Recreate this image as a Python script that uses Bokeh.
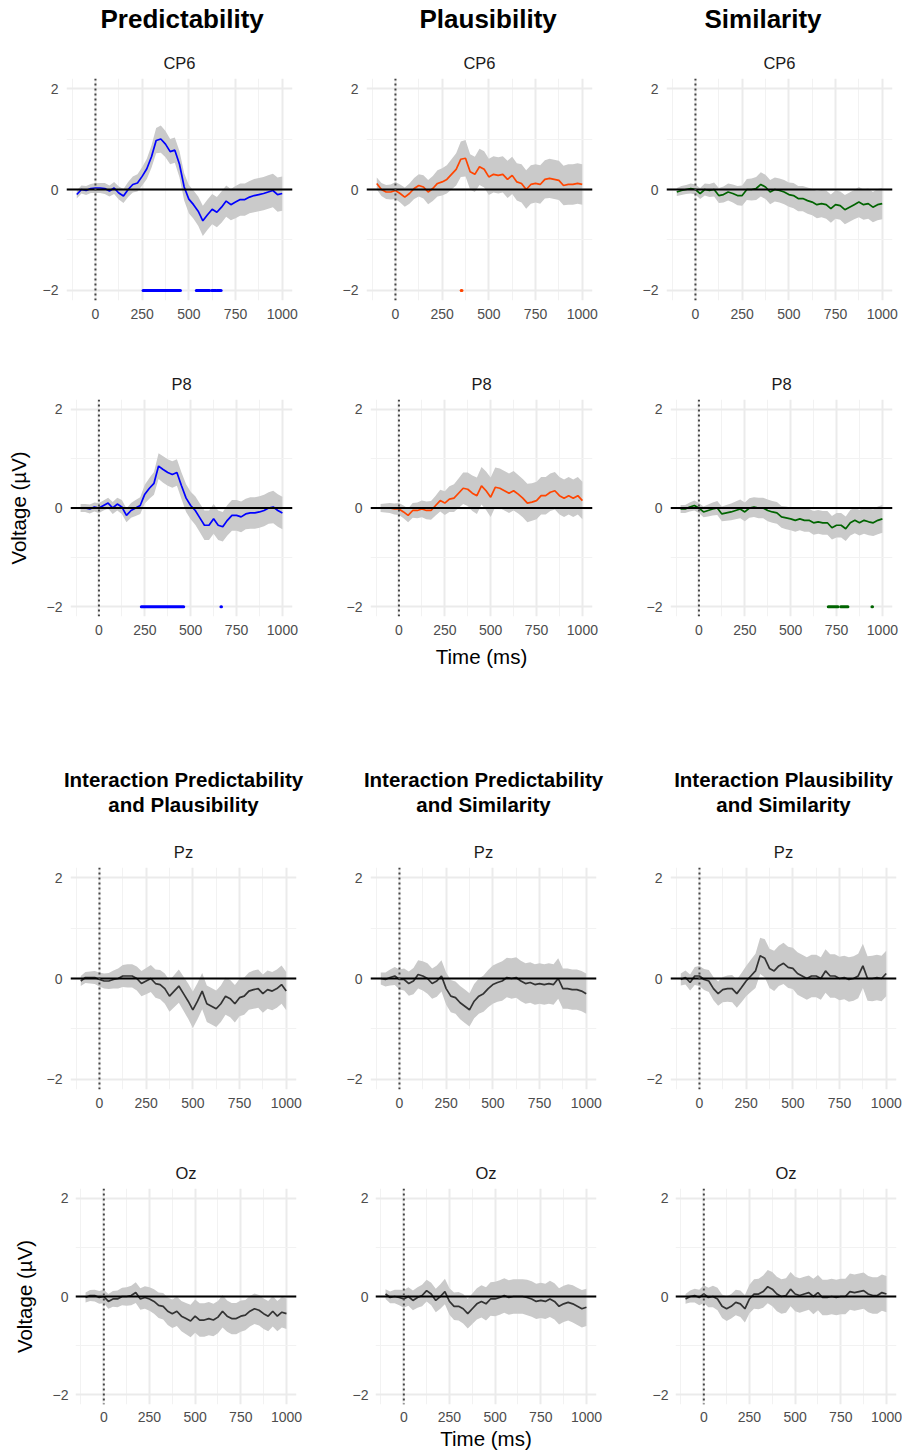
from bokeh.plotting import figure
from bokeh.models import Range1d, FixedTicker, Span, Title
from bokeh.layouts import column, row
from bokeh.embed import file_html
from bokeh.resources import INLINE

FONT = "Liberation Sans"

# ---------------- data ----------------
TIME = [-100, -75, -50, -25, 0, 25, 50, 75, 100, 125, 150, 175, 200, 225, 250, 275,
        300, 325, 350, 375, 400, 425, 450, 475, 500, 525, 550, 575, 600, 625, 650,
        675, 700, 725, 750, 775, 800, 825, 850, 875, 900, 925, 950, 975, 1000]

X_TICKS = [0, 250, 500, 750, 1000]
X_MINOR = [-125, 125, 375, 625, 875]
Y_TICKS = [-2, 0, 2]
Y_MINOR = [-1, 1]
Y_LABELS = {-2: "\u22122", 0: "0", 2: "2"}
SIG_LEVEL = -2

col_titles_top = ["Predictability", "Plausibility", "Similarity"]
col_titles_bottom = [["Interaction Predictability", "and Plausibility"],
                     ["Interaction Predictability", "and Similarity"],
                     ["Interaction Plausibility", "and Similarity"]]
electrodes = ["CP6", "P8", "Pz", "Oz"]

pred_cp6 = [-0.10, 0.00, -0.02, 0.02, 0.03, 0.03, 0.02, -0.03, 0.03, -0.07, -0.13, 0.00, 0.10, 0.13, 0.26, 0.41,
            0.65, 0.97, 1.00, 0.90, 0.75, 0.78, 0.50, 0.05, -0.19, -0.30, -0.43, -0.62, -0.50, -0.39, -0.45,
            -0.35, -0.23, -0.30, -0.25, -0.20, -0.20, -0.15, -0.12, -0.10, -0.08, -0.05, -0.02, -0.10, -0.08]
ci_pred_cp6 = [0.08, 0.08, 0.09, 0.09, 0.10, 0.10, 0.11, 0.11, 0.12, 0.13, 0.14, 0.15, 0.16, 0.17, 0.18, 0.20,
               0.22, 0.25, 0.27, 0.26, 0.25, 0.25, 0.26, 0.27, 0.28, 0.28, 0.29, 0.30, 0.30, 0.30, 0.30,
               0.31, 0.31, 0.31, 0.32, 0.32, 0.32, 0.32, 0.33, 0.33, 0.33, 0.33, 0.33, 0.34, 0.34]

plaus_cp6 = [0.12, 0.00, -0.05, -0.05, -0.02, -0.08, -0.15, -0.08, 0.02, 0.08, 0.05, -0.05, 0.02, 0.12, 0.15, 0.20,
             0.30, 0.40, 0.60, 0.62, 0.35, 0.30, 0.45, 0.40, 0.25, 0.30, 0.28, 0.30, 0.20, 0.28, 0.15,
             0.12, 0.00, 0.10, 0.12, 0.10, 0.20, 0.22, 0.20, 0.18, 0.08, 0.10, 0.10, 0.12, 0.10]
ci_plaus_cp6 = [0.12, 0.13, 0.14, 0.15, 0.17, 0.18, 0.19, 0.20, 0.21, 0.22, 0.23, 0.24, 0.25, 0.26, 0.27, 0.28,
                0.30, 0.32, 0.35, 0.36, 0.35, 0.35, 0.36, 0.36, 0.36, 0.36, 0.36, 0.36, 0.37, 0.37, 0.37,
                0.38, 0.38, 0.38, 0.38, 0.38, 0.38, 0.39, 0.39, 0.39, 0.39, 0.40, 0.40, 0.40, 0.40]

sim_cp6 = [-0.05, -0.02, 0.00, 0.02, 0.00, -0.08, 0.00, -0.02, 0.00, -0.12, -0.10, -0.05, -0.08, -0.12, -0.12, 0.00,
           0.00, 0.02, 0.10, 0.05, -0.05, 0.00, -0.02, -0.05, -0.10, -0.12, -0.18, -0.18, -0.22, -0.25, -0.30,
           -0.28, -0.30, -0.38, -0.30, -0.32, -0.40, -0.35, -0.30, -0.25, -0.30, -0.28, -0.35, -0.30, -0.28]
ci_sim_cp6 = [0.08, 0.09, 0.09, 0.10, 0.10, 0.11, 0.12, 0.13, 0.14, 0.15, 0.16, 0.17, 0.18, 0.19, 0.20, 0.21,
              0.22, 0.23, 0.24, 0.24, 0.24, 0.24, 0.24, 0.24, 0.24, 0.25, 0.25, 0.25, 0.26, 0.26, 0.27,
              0.27, 0.28, 0.28, 0.28, 0.28, 0.29, 0.29, 0.29, 0.30, 0.30, 0.30, 0.30, 0.31, 0.31]

pred_p8 = [0.00, 0.00, -0.02, 0.02, 0.00, 0.05, 0.10, 0.00, 0.08, 0.02, -0.15, -0.05, 0.00, 0.05, 0.28, 0.40,
           0.50, 0.85, 0.78, 0.72, 0.68, 0.72, 0.45, 0.20, 0.05, -0.05, -0.20, -0.35, -0.35, -0.22, -0.35,
           -0.38, -0.25, -0.15, -0.15, -0.18, -0.12, -0.10, -0.10, -0.08, -0.05, 0.00, 0.02, -0.05, -0.10]
ci_pred_p8 = [0.08, 0.08, 0.09, 0.09, 0.10, 0.10, 0.11, 0.12, 0.13, 0.14, 0.14, 0.15, 0.16, 0.17, 0.19, 0.21,
              0.23, 0.26, 0.27, 0.27, 0.27, 0.27, 0.27, 0.28, 0.28, 0.29, 0.29, 0.30, 0.30, 0.30, 0.30,
              0.30, 0.31, 0.31, 0.31, 0.31, 0.31, 0.32, 0.32, 0.32, 0.32, 0.32, 0.33, 0.33, 0.33]

plaus_p8 = [0.00, 0.00, 0.00, -0.02, -0.02, -0.08, -0.15, -0.05, -0.05, -0.02, -0.05, -0.05, 0.05, 0.15, 0.10, 0.18,
            0.20, 0.30, 0.40, 0.38, 0.30, 0.25, 0.45, 0.35, 0.22, 0.42, 0.40, 0.35, 0.30, 0.35, 0.28,
            0.20, 0.10, 0.12, 0.15, 0.25, 0.25, 0.32, 0.35, 0.25, 0.20, 0.25, 0.20, 0.25, 0.15]
ci_plaus_p8 = [0.08, 0.09, 0.10, 0.11, 0.12, 0.13, 0.14, 0.15, 0.16, 0.17, 0.18, 0.19, 0.20, 0.22, 0.24, 0.26,
               0.28, 0.30, 0.32, 0.34, 0.36, 0.37, 0.38, 0.39, 0.40, 0.40, 0.40, 0.40, 0.40, 0.40, 0.39,
               0.39, 0.39, 0.38, 0.38, 0.38, 0.38, 0.38, 0.38, 0.38, 0.38, 0.38, 0.38, 0.38, 0.38]

sim_p8 = [-0.02, -0.02, 0.02, 0.05, 0.00, -0.08, -0.05, -0.02, 0.00, -0.12, -0.10, -0.08, -0.05, -0.02, -0.08, 0.00,
          0.02, 0.00, 0.00, -0.05, -0.08, -0.10, -0.18, -0.20, -0.22, -0.25, -0.22, -0.25, -0.25, -0.30, -0.28,
          -0.30, -0.30, -0.40, -0.35, -0.35, -0.42, -0.30, -0.25, -0.30, -0.25, -0.28, -0.30, -0.25, -0.22]
ci_sim_p8 = [0.08, 0.08, 0.09, 0.10, 0.10, 0.11, 0.12, 0.13, 0.14, 0.15, 0.16, 0.17, 0.18, 0.19, 0.19, 0.20,
             0.20, 0.21, 0.21, 0.22, 0.22, 0.22, 0.22, 0.23, 0.23, 0.23, 0.23, 0.23, 0.23, 0.24, 0.24,
             0.24, 0.24, 0.24, 0.25, 0.25, 0.25, 0.26, 0.26, 0.26, 0.27, 0.27, 0.27, 0.28, 0.28]

pp_pz = [-0.05, 0.02, 0.02, 0.02, -0.02, -0.05, -0.05, -0.02, 0.00, 0.05, 0.05, 0.05, 0.00, -0.10, -0.05, 0.00,
         -0.10, -0.12, -0.20, -0.35, -0.25, -0.15, -0.30, -0.45, -0.62, -0.45, -0.25, -0.50, -0.55, -0.60, -0.50,
         -0.35, -0.40, -0.50, -0.38, -0.35, -0.25, -0.22, -0.20, -0.30, -0.22, -0.25, -0.20, -0.12, -0.25]
ci_pp_pz = [0.10, 0.11, 0.12, 0.13, 0.14, 0.15, 0.16, 0.18, 0.20, 0.22, 0.23, 0.23, 0.24, 0.25, 0.26, 0.27,
            0.28, 0.29, 0.30, 0.31, 0.32, 0.33, 0.34, 0.35, 0.36, 0.36, 0.36, 0.36, 0.36, 0.36, 0.36,
            0.37, 0.37, 0.37, 0.37, 0.37, 0.37, 0.38, 0.38, 0.38, 0.38, 0.38, 0.38, 0.38, 0.38]

ps_pz = [0.00, -0.02, 0.02, 0.05, -0.02, -0.02, -0.10, -0.05, 0.08, 0.05, 0.00, -0.10, -0.05, 0.05, -0.20, -0.35,
         -0.38, -0.48, -0.55, -0.62, -0.45, -0.35, -0.30, -0.20, -0.12, -0.08, -0.05, 0.02, 0.00, 0.02, -0.05,
         -0.10, -0.08, -0.12, -0.10, -0.12, -0.10, -0.12, 0.00, -0.20, -0.20, -0.22, -0.22, -0.25, -0.30]
ci_ps_pz = [0.12, 0.14, 0.16, 0.18, 0.20, 0.22, 0.24, 0.26, 0.28, 0.29, 0.30, 0.30, 0.31, 0.31, 0.32, 0.32,
            0.32, 0.33, 0.33, 0.33, 0.34, 0.35, 0.36, 0.37, 0.38, 0.38, 0.39, 0.39, 0.40, 0.40, 0.40,
            0.40, 0.40, 0.40, 0.40, 0.40, 0.40, 0.40, 0.40, 0.40, 0.40, 0.40, 0.40, 0.40, 0.40]

ls_pz = [-0.02, 0.02, -0.08, 0.05, 0.05, -0.02, -0.05, -0.20, -0.30, -0.22, -0.20, -0.20, -0.30, -0.18, -0.05, 0.05,
         0.15, 0.45, 0.40, 0.20, 0.15, 0.25, 0.30, 0.22, 0.20, 0.10, 0.05, 0.00, 0.05, 0.05, 0.00,
         0.15, 0.05, 0.05, 0.00, 0.02, -0.02, 0.00, 0.05, 0.25, 0.00, 0.00, 0.02, 0.00, 0.10]
ci_ls_pz = [0.12, 0.14, 0.16, 0.18, 0.20, 0.21, 0.22, 0.23, 0.24, 0.25, 0.26, 0.27, 0.28, 0.29, 0.30, 0.32,
            0.34, 0.36, 0.38, 0.39, 0.40, 0.40, 0.41, 0.41, 0.41, 0.42, 0.42, 0.42, 0.42, 0.42, 0.42,
            0.43, 0.43, 0.43, 0.43, 0.43, 0.44, 0.44, 0.44, 0.44, 0.44, 0.45, 0.45, 0.45, 0.45]

pp_oz = [-0.02, 0.02, 0.02, -0.02, 0.00, -0.10, -0.05, -0.05, 0.00, 0.00, 0.02, 0.08, -0.05, -0.02, -0.05, -0.10,
         -0.18, -0.20, -0.30, -0.35, -0.30, -0.40, -0.45, -0.50, -0.40, -0.48, -0.48, -0.45, -0.48, -0.42, -0.30,
         -0.40, -0.45, -0.45, -0.40, -0.38, -0.30, -0.25, -0.28, -0.35, -0.40, -0.30, -0.40, -0.32, -0.35]
ci_pp_oz = [0.10, 0.11, 0.12, 0.13, 0.14, 0.15, 0.16, 0.17, 0.18, 0.19, 0.20, 0.21, 0.22, 0.23, 0.24, 0.25,
            0.26, 0.27, 0.28, 0.29, 0.30, 0.31, 0.32, 0.33, 0.34, 0.34, 0.34, 0.34, 0.33, 0.33, 0.33,
            0.32, 0.32, 0.32, 0.32, 0.31, 0.31, 0.31, 0.31, 0.31, 0.31, 0.31, 0.31, 0.31, 0.31]

ps_oz = [0.05, -0.02, 0.00, -0.02, -0.05, 0.00, -0.08, -0.02, 0.02, 0.12, 0.05, -0.08, 0.00, 0.10, -0.10, -0.20,
         -0.20, -0.25, -0.35, -0.25, -0.15, -0.10, -0.15, -0.05, -0.05, -0.02, 0.02, -0.02, 0.00, 0.00, 0.00,
         -0.02, -0.05, -0.10, -0.08, -0.10, -0.05, -0.10, -0.20, -0.15, -0.12, -0.15, -0.20, -0.25, -0.22]
ci_ps_oz = [0.10, 0.12, 0.14, 0.16, 0.18, 0.19, 0.20, 0.21, 0.22, 0.22, 0.23, 0.24, 0.25, 0.26, 0.27, 0.28,
            0.29, 0.30, 0.30, 0.31, 0.32, 0.33, 0.34, 0.34, 0.35, 0.35, 0.35, 0.35, 0.35, 0.35, 0.35,
            0.36, 0.36, 0.36, 0.36, 0.36, 0.37, 0.37, 0.37, 0.37, 0.37, 0.38, 0.38, 0.38, 0.38]

ls_oz = [-0.05, 0.00, 0.02, -0.02, 0.05, -0.02, 0.00, -0.05, -0.20, -0.25, -0.20, -0.12, -0.15, -0.25, -0.05, 0.05,
         0.05, 0.10, 0.20, 0.15, 0.05, 0.00, 0.02, 0.15, 0.05, 0.02, 0.05, 0.08, 0.00, 0.08, -0.02,
         -0.02, 0.00, -0.02, 0.00, 0.00, 0.10, 0.08, 0.10, 0.12, 0.05, 0.02, 0.02, 0.08, 0.05]
ci_ls_oz = [0.10, 0.12, 0.14, 0.16, 0.18, 0.20, 0.22, 0.23, 0.24, 0.25, 0.25, 0.26, 0.27, 0.28, 0.29, 0.30,
            0.31, 0.33, 0.34, 0.35, 0.35, 0.35, 0.35, 0.35, 0.35, 0.35, 0.35, 0.35, 0.36, 0.36, 0.36,
            0.36, 0.36, 0.36, 0.36, 0.36, 0.37, 0.37, 0.37, 0.37, 0.37, 0.37, 0.37, 0.37, 0.37]

# significant time windows (ms) drawn at the bottom of the panel
sig_pred_cp6_start = [255, 540, 622, 651]
sig_pred_cp6_end = [455, 611, 645, 673]
sig_pred_p8_start = [231, 665]
sig_pred_p8_end = [462, 668]
sig_plaus_cp6_start = [352]
sig_plaus_cp6_end = [356]
sig_sim_p8_start = [705, 773, 943]
sig_sim_p8_end = [758, 812, 946]

BLUE = "#0000FF"
ORANGE = "#FF4500"
GREEN = "#006400"
DARK = "#333333"
RIBBON = "#CACACA"
GRID = "#EBEBEB"
GRID_MINOR = "#F2F2F2"


def style_title(t, size, bold, align="center", offset=0, standoff=0, color="#000000"):
    t.align = align
    t.offset = offset
    t.standoff = standoff
    t.text_font = FONT
    t.text_font_size = size
    t.text_font_style = "bold" if bold else "normal"
    t.text_color = color


def make_panel(vals, ci, color, electrode, geo, tick_standoff=8, sig=None,
               main_lines=None, main_size="26px", main_align="center", main_offset=0,
               spacer_size="6px", xlabel=None, ylabel=None, xlabel_standoff=7):
    bl, fw, br, bt, fh, bb = geo
    p = figure(frame_width=fw, frame_height=fh,
               min_border_left=bl, min_border_right=br,
               min_border_top=bt, min_border_bottom=bb,
               x_range=Range1d(-155, 1055), y_range=Range1d(-2.2, 2.2),
               output_backend="svg", toolbar_location=None, tools="")
    p.outline_line_color = None
    p.background_fill_color = "white"
    p.border_fill_color = "white"

    if main_lines:
        # stacked from the frame outwards: strip label, spacer, inner lines, outermost = p.title
        strip = Title(text=electrode)
        style_title(strip, "16.5px", False, standoff=13, color="#1A1A1A")
        p.add_layout(strip, "above")
        spacer = Title(text=" ")
        style_title(spacer, spacer_size, False, standoff=0)
        p.add_layout(spacer, "above")
        for line in reversed(main_lines[1:]):
            t = Title(text=line)
            style_title(t, main_size, True, align=main_align, offset=main_offset)
            p.add_layout(t, "above")
        p.title.text = main_lines[0]
        style_title(p.title, main_size, True, align=main_align, offset=main_offset)
    else:
        p.title.text = electrode
        style_title(p.title, "16.5px", False, standoff=13, color="#1A1A1A")

    p.xaxis.ticker = FixedTicker(ticks=X_TICKS, minor_ticks=X_MINOR)
    p.yaxis.ticker = FixedTicker(ticks=Y_TICKS, minor_ticks=Y_MINOR)
    p.yaxis.major_label_overrides = Y_LABELS

    for ax in (p.xaxis[0], p.yaxis[0]):
        ax.axis_line_color = None
        ax.major_tick_line_color = None
        ax.minor_tick_line_color = None
        ax.major_tick_out = 0
        ax.major_tick_in = 0
        ax.minor_tick_out = 0
        ax.minor_tick_in = 0
        ax.major_label_text_font = FONT
        ax.major_label_text_font_size = "14px"
        ax.major_label_text_color = "#4D4D4D"
        ax.major_label_standoff = tick_standoff
        ax.axis_label_text_font = FONT
        ax.axis_label_text_font_size = "20.5px"
        ax.axis_label_text_font_style = "normal"
        ax.axis_label_text_color = "#000000"
    if xlabel:
        p.xaxis.axis_label = xlabel
        p.xaxis.axis_label_standoff = xlabel_standoff
    if ylabel:
        p.yaxis.axis_label = ylabel
        p.yaxis.axis_label_standoff = 14

    for g in (p.xgrid[0], p.ygrid[0]):
        g.grid_line_color = GRID
        g.grid_line_width = 2
        g.minor_grid_line_color = GRID_MINOR
        g.minor_grid_line_width = 1

    lower = [v - c for v, c in zip(vals, ci)]
    upper = [v + c for v, c in zip(vals, ci)]
    p.varea(x=TIME, y1=lower, y2=upper, fill_color=RIBBON)
    p.add_layout(Span(location=0, dimension="width", line_color="black", line_width=2))
    p.line(x=TIME, y=vals, line_color=color, line_width=1.7)
    if sig:
        s0, s1 = sig
        p.segment(x0=s0, y0=[SIG_LEVEL] * len(s0), x1=s1, y1=[SIG_LEVEL] * len(s0),
                  line_color=color, line_width=3, line_cap="round")
    p.add_layout(Span(location=0, dimension="height", line_color="#444444",
                      line_dash="2 3", line_width=2))
    return p


# geometry: (border_left, frame_width, border_right, border_top, frame_height, border_bottom)
geoA = [(66, 226, 16, 78, 222, 40), (58, 226, 16, 78, 222, 40), (58, 226, 10, 78, 222, 40)]
geoB = [(70, 222, 16, 59, 217, 64), (62, 222, 16, 59, 217, 64), (62, 222, 10, 59, 217, 64)]
geoC = [(70, 226, 12, 187, 222, 41), (62, 226, 12, 187, 222, 41), (62, 226, 6, 187, 222, 41)]
geoD = [(75, 221, 12, 58, 216, 49), (67, 221, 12, 58, 216, 49), (67, 221, 6, 58, 216, 49)]

top_offsets = [34, 53, 38]

rowA = [
    make_panel(pred_cp6, ci_pred_cp6, BLUE, electrodes[0], geoA[0],
               sig=(sig_pred_cp6_start, sig_pred_cp6_end), spacer_size="8.5px",
               main_lines=[col_titles_top[0]], main_align="left", main_offset=top_offsets[0]),
    make_panel(plaus_cp6, ci_plaus_cp6, ORANGE, electrodes[0], geoA[1],
               sig=(sig_plaus_cp6_start, sig_plaus_cp6_end), spacer_size="8.5px",
               main_lines=[col_titles_top[1]], main_align="left", main_offset=top_offsets[1]),
    make_panel(sim_cp6, ci_sim_cp6, GREEN, electrodes[0], geoA[2], spacer_size="8.5px",
               main_lines=[col_titles_top[2]], main_align="left", main_offset=top_offsets[2]),
]
rowB = [
    make_panel(pred_p8, ci_pred_p8, BLUE, electrodes[1], geoB[0],
               sig=(sig_pred_p8_start, sig_pred_p8_end), ylabel="Voltage (\u00b5V)"),
    make_panel(plaus_p8, ci_plaus_p8, ORANGE, electrodes[1], geoB[1], xlabel="Time (ms)"),
    make_panel(sim_p8, ci_sim_p8, GREEN, electrodes[1], geoB[2],
               sig=(sig_sim_p8_start, sig_sim_p8_end)),
]
rowC = [
    make_panel(pp_pz, ci_pp_pz, DARK, electrodes[2], geoC[0],
               main_lines=col_titles_bottom[0], main_size="20.5px", spacer_size="15.5px"),
    make_panel(ps_pz, ci_ps_pz, DARK, electrodes[2], geoC[1],
               main_lines=col_titles_bottom[1], main_size="20.5px", spacer_size="15.5px"),
    make_panel(ls_pz, ci_ls_pz, DARK, electrodes[2], geoC[2],
               main_lines=col_titles_bottom[2], main_size="20.5px", spacer_size="15.5px"),
]
rowD = [
    make_panel(pp_oz, ci_pp_oz, DARK, electrodes[3], geoD[0], tick_standoff=7,
               ylabel="Voltage (\u00b5V)"),
    make_panel(ps_oz, ci_ps_oz, DARK, electrodes[3], geoD[1], tick_standoff=7,
               xlabel="Time (ms)", xlabel_standoff=2),
    make_panel(ls_oz, ci_ls_oz, DARK, electrodes[3], geoD[2], tick_standoff=7),
]

layout = column(row(*rowA), row(*rowB), row(*rowC), row(*rowD))
open("out.html", "w").write(file_html(layout, INLINE, title="ERP effects"))
